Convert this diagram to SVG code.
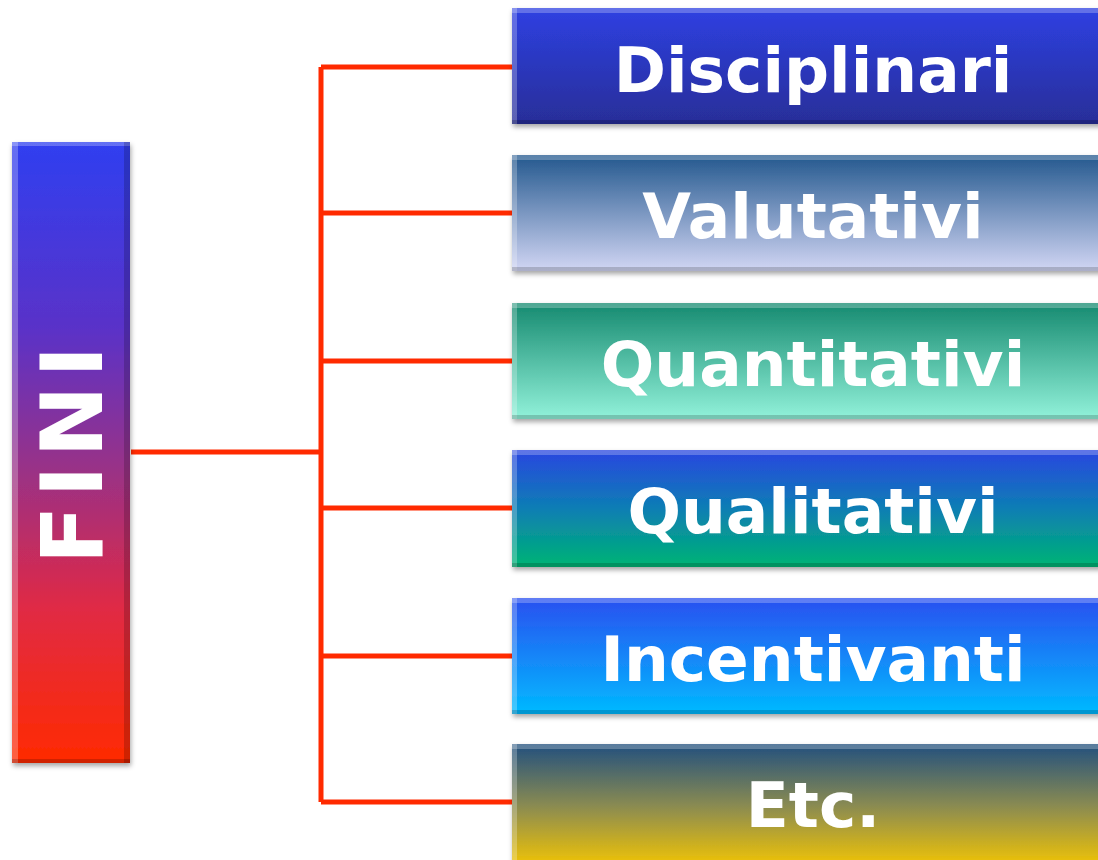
<svg xmlns="http://www.w3.org/2000/svg" width="1098" height="860" viewBox="0 0 1098 860">
<defs>
<style>
.lbl{font-family:"DejaVu Sans","Verdana",sans-serif;font-weight:bold;fill:#fff;text-anchor:middle}
.box{filter:url(#sh)}
.conn{stroke:#ff2a00;stroke-width:5;fill:none}
.hl{fill:#fff;opacity:.25}
.dk{fill:#000;opacity:.18}
</style>
<filter id="sh" x="-10%" y="-10%" width="120%" height="130%">
<feDropShadow dx="1" dy="3" stdDeviation="2.5" flood-color="#000" flood-opacity="0.35"/>
</filter>
<linearGradient id="gF" x1="0" y1="0" x2="0" y2="1">
<stop offset="0" stop-color="#2f3ff0"/><stop offset="0.3" stop-color="#5a32c8"/><stop offset="0.55" stop-color="#a03080"/><stop offset="0.75" stop-color="#e02a45"/><stop offset="1" stop-color="#ff2a00"/>
</linearGradient>
<linearGradient id="g1" x1="0" y1="0" x2="0" y2="1"><stop offset="0" stop-color="#2e40e2"/><stop offset="1" stop-color="#282e98"/></linearGradient>
<linearGradient id="g2" x1="0" y1="0" x2="0" y2="1"><stop offset="0" stop-color="#24588e"/><stop offset="1" stop-color="#d2d6f4"/></linearGradient>
<linearGradient id="g3" x1="0" y1="0" x2="0" y2="1"><stop offset="0" stop-color="#168a70"/><stop offset="1" stop-color="#92f2da"/></linearGradient>
<linearGradient id="g4" x1="0" y1="0" x2="0" y2="1"><stop offset="0" stop-color="#2a46e0"/><stop offset="0.5" stop-color="#0c7eb4"/><stop offset="1" stop-color="#00b474"/></linearGradient>
<linearGradient id="g5" x1="0" y1="0" x2="0" y2="1"><stop offset="0" stop-color="#2a50f0"/><stop offset="1" stop-color="#00baff"/></linearGradient>
<linearGradient id="g6" x1="0" y1="0" x2="0" y2="1"><stop offset="0" stop-color="#22507e"/><stop offset="0.5" stop-color="#8c8c50"/><stop offset="1" stop-color="#f8c800"/></linearGradient>
</defs>
<g id="connectors">
<path class="conn" d="M131 452 H321 M321 67 V802 M321 67 H512 M321 213 H512 M321 361 H512 M321 508 H512 M321 656 H512 M321 802 H512"/>
</g>
<g id="node-fini">
<rect class="box" x="12" y="142" width="118" height="621" fill="url(#gF)"/>
<rect class="hl" x="12" y="142" width="118" height="4"/>
<rect class="hl" x="12" y="142" width="6" height="621"/>
<rect class="dk" x="124" y="142" width="6" height="621"/>
<rect class="dk" x="12" y="759" width="118" height="4"/>
<text class="lbl" transform="translate(102 451) rotate(-90)" font-size="86" letter-spacing="8">FINI</text>
</g>
<g id="node-1">
<rect class="box" x="512" y="8" width="600" height="116" fill="url(#g1)"/>
<rect class="hl" x="512" y="8" width="600" height="5"/><rect class="hl" x="512" y="8" width="5" height="116"/><rect class="dk" x="512" y="120" width="600" height="4"/>
<text class="lbl" x="813" y="92" font-size="63">Disciplinari</text>
</g>
<g id="node-2">
<rect class="box" x="512" y="155" width="600" height="116" fill="url(#g2)"/>
<rect class="hl" x="512" y="155" width="600" height="5"/><rect class="hl" x="512" y="155" width="5" height="116"/><rect class="dk" x="512" y="267" width="600" height="4"/>
<text class="lbl" x="813" y="238" font-size="63">Valutativi</text>
</g>
<g id="node-3">
<rect class="box" x="512" y="303" width="600" height="116" fill="url(#g3)"/>
<rect class="hl" x="512" y="303" width="600" height="5"/><rect class="hl" x="512" y="303" width="5" height="116"/><rect class="dk" x="512" y="415" width="600" height="4"/>
<text class="lbl" x="813" y="386" font-size="63">Quantitativi</text>
</g>
<g id="node-4">
<rect class="box" x="512" y="450" width="600" height="117" fill="url(#g4)"/>
<rect class="hl" x="512" y="450" width="600" height="5"/><rect class="hl" x="512" y="450" width="5" height="117"/><rect class="dk" x="512" y="563" width="600" height="4"/>
<text class="lbl" x="813" y="533" font-size="63">Qualitativi</text>
</g>
<g id="node-5">
<rect class="box" x="512" y="598" width="600" height="116" fill="url(#g5)"/>
<rect class="hl" x="512" y="598" width="600" height="5"/><rect class="hl" x="512" y="598" width="5" height="116"/><rect class="dk" x="512" y="710" width="600" height="4"/>
<text class="lbl" x="813" y="681" font-size="63">Incentivanti</text>
</g>
<g id="node-6">
<rect class="box" x="512" y="744" width="600" height="126" fill="url(#g6)"/>
<rect class="hl" x="512" y="744" width="600" height="5"/><rect class="hl" x="512" y="744" width="5" height="126"/>
<text class="lbl" x="813" y="827" font-size="63">Etc.</text>
</g>
</svg>
